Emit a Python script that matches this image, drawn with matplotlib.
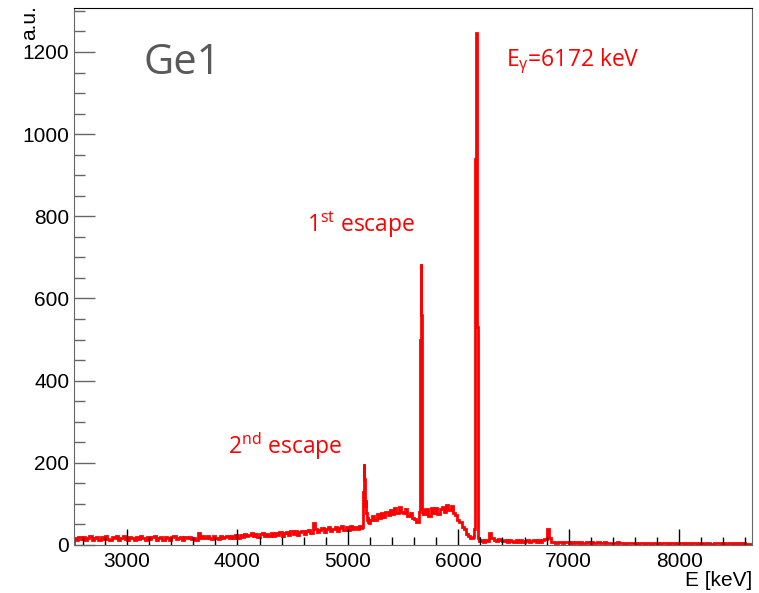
import numpy as np
import matplotlib
matplotlib.use('Agg')
import matplotlib.pyplot as plt
from matplotlib.ticker import MultipleLocator

plt.rcParams['font.family'] = ['Liberation Sans', 'DejaVu Sans']

# spectrum (counts per bin, energies in keV)
# background 2520-5120, 20 keV bins
bg_low = [18, 12, 20, 14, 19, 11, 18, 21, 13,
          17, 20, 12, 19, 14, 22, 15, 12, 19, 16,
          21, 13, 18, 23, 15, 12, 20, 16, 13, 19,
          15, 21, 16, 12, 20, 15, 19, 22, 13, 18,
          19, 13, 20, 16, 12, 19, 21, 14, 18, 20,
          13, 19, 16, 20, 14, 17, 13, 29, 17, 21,
          16, 22, 17, 14, 21, 18, 15, 23, 17, 20,
          22, 16, 21, 17, 24, 18, 25, 19, 27, 21,
          25, 29, 21, 27, 20, 26, 30, 22, 27, 21,
          28, 22, 30, 25, 32, 23, 28, 31, 24, 33,
          27, 34, 25, 31, 35, 27, 33, 36, 28, 54,
          39, 31, 37, 42, 32, 38, 43, 33, 40, 45,
          35, 42, 46, 36, 44, 37, 47, 39, 45, 38,
          46]
# 2nd escape peak 5120-5200, 5 keV bins
esc2 = [42, 46, 44, 55, 130, 197, 160, 95, 110, 78, 70, 62, 68, 56, 63, 54]
# 5200-5640, 20 keV bins
bg_mid1 = [60, 70, 62, 75, 66, 78, 69, 81, 72, 86, 75, 90, 78, 93, 81, 77,
           87, 71, 79, 65, 64, 55]
# 1st escape peak 5640-5690, 5 keV bins
esc1 = [62, 80, 160, 500, 685, 560, 90, 88, 74, 85]
# 5690-6130, 20 keV bins
bg_mid2 = [76, 87, 71, 89, 78, 91, 76, 88, 92, 80, 97, 85, 94, 78, 74, 61,
           57, 43, 38, 26, 23, 16]
# full energy peak 6130-6200, 5 keV bins
full = [17, 19, 24, 40, 190, 940, 1245, 1245, 530, 45, 16, 12, 10, 11]
# 6200-8660, 20 keV bins
bg_high = [11, 8, 13, 10, 30, 18, 13, 10, 15, 12,
           9, 13, 8, 12, 10, 7, 12, 8, 11, 8,
           9, 11, 7, 10, 12, 8, 11, 8, 12, 14,
           38, 16, 8, 7, 5, 8, 7, 5, 8, 7,
           5, 7, 4, 8, 6, 7, 5, 4, 7, 6,
           7, 4, 6, 8, 4, 6, 7, 4, 6, 5,
           6, 4, 7, 5, 6, 3, 6, 5, 4, 6,
           5, 3, 6, 5, 3, 5, 6, 3, 5, 4,
           5, 3, 5, 4, 6, 3, 5, 4, 3, 5,
           4, 5, 3, 4, 5, 2, 4, 5, 3, 4,
           4, 2, 5, 4, 3, 2, 4, 4, 5, 2,
           4, 2, 4, 5, 2, 4, 3, 4, 2, 4,
           3, 2, 2]

edges = np.concatenate([
    np.arange(2520, 5120, 20),
    np.arange(5120, 5200, 5),
    np.arange(5200, 5640, 20),
    np.arange(5640, 5690, 5),
    np.arange(5690, 6130, 20),
    np.arange(6130, 6200, 5),
    np.arange(6200, 8680, 20),
])
counts = np.array(bg_low + esc2 + bg_mid1 + esc1 + bg_mid2 + full + bg_high, dtype=float)

fig = plt.figure(figsize=(7.59, 5.93), dpi=100)
ax = fig.add_axes([74/759, 1-545/593, (752-74)/759, (545-8)/593])

ax.stairs(counts, edges, color='#ff0000', lw=2)

ax.set_xlim(2520, 8660)
ax.set_ylim(0, 1307)

ax.xaxis.set_major_locator(MultipleLocator(1000))
ax.xaxis.set_minor_locator(MultipleLocator(200))
ax.yaxis.set_major_locator(MultipleLocator(200))
ax.yaxis.set_minor_locator(MultipleLocator(50))

ax.tick_params(axis='both', which='both', direction='in', labelsize=15)
ax.tick_params(axis='x', which='major', length=11.5, width=1, color='black', pad=5)
ax.tick_params(axis='x', which='minor', length=6, width=1, color='black')
ax.tick_params(axis='y', which='major', length=15, width=1, color='#666666', pad=3.5)
ax.tick_params(axis='y', which='minor', length=8, width=1, color='#666666')

for s in ['left', 'right', 'bottom']:
    ax.spines[s].set_color('#666666')
ax.spines['top'].set_color('black')

fig.text(20/759, 1-5/593, 'a.u.', rotation=90, ha='left', va='top', fontsize=15)
fig.text(752/759, 1-590/593, 'E [keV]', ha='right', va='bottom', fontsize=15)

ax.text(0.102, 0.898, 'Ge1', transform=ax.transAxes, fontsize=30,
        color='#595959', family='Open Sans', va='center', ha='left')

red_font = dict(color='#ff0000', family='Open Sans', fontsize=16.5)
ax.text(6433, 1165, r'$\mathregular{E_{\gamma}}$=6172 keV', va='baseline', **red_font)
ax.text(3915, 222, r'$\mathregular{2^{nd}}$ escape', va='baseline', **red_font)
ax.text(4630, 763, r'$\mathregular{1^{st}}$ escape', va='baseline', **red_font)

fig.savefig('out.png', dpi=100)
